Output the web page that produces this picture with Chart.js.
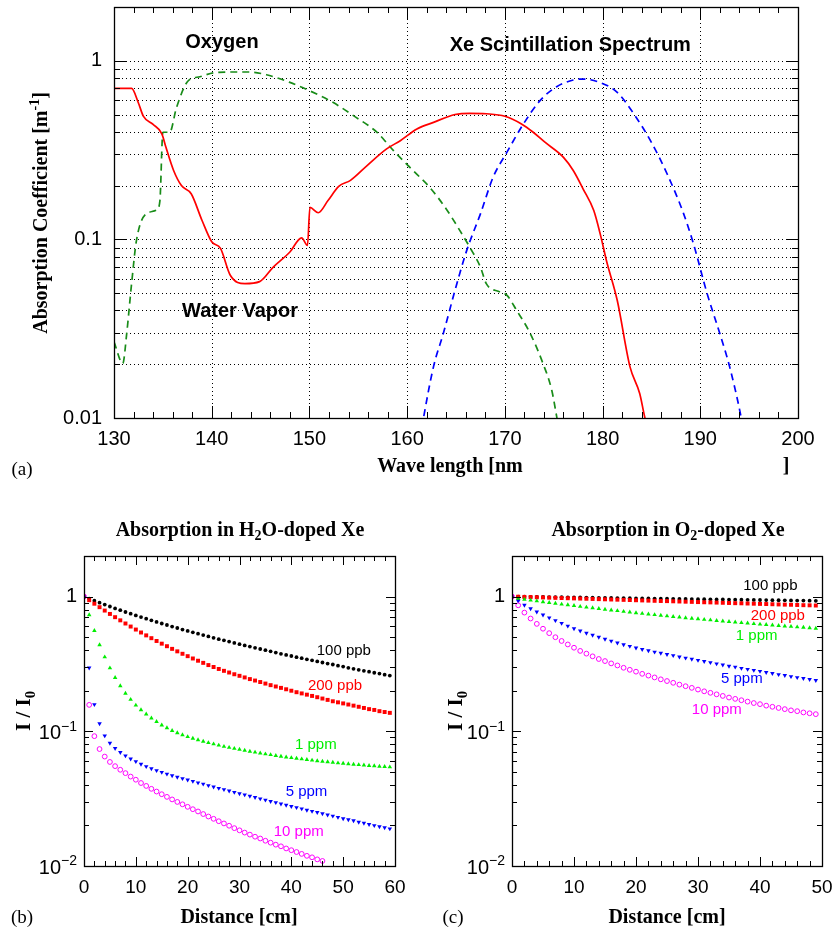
<!DOCTYPE html>
<html>
<head>
<meta charset="utf-8">
<script src="https://cdn.jsdelivr.net/npm/chart.js@4.4.0/dist/chart.umd.min.js"></script>
<style>
  body { margin: 0; background: #fff; width: 835px; height: 931px; position: relative; overflow: hidden; }
  .box { position: absolute; }
</style>
</head>
<body>
<div class="box" style="left:0;top:0;width:835px;height:490px"><canvas id="cA"></canvas></div>
<div class="box" style="left:0;top:500px;width:417px;height:431px"><canvas id="cB"></canvas></div>
<div class="box" style="left:417px;top:500px;width:418px;height:431px"><canvas id="cC"></canvas></div>
<script>
// (a) absorption coefficients vs wavelength
var wvNm  = [130, 131.8, 132.5, 133.0, 134.0, 134.9, 135.3, 136.1, 136.9, 137.9, 139.0, 140.0, 140.9, 141.9, 143.4, 144.9, 146.3, 148.0, 149.2, 149.8, 150.05, 150.9, 151.9, 153.0, 154.2, 155.9, 157.9, 159.3, 161.0, 162.7, 164.9, 166.4, 168.1, 170.0, 171.7, 172.9, 174.1, 176.0, 177.0, 178.0, 179.1, 179.8, 180.4, 181.5, 182.8, 183.8, 184.3, 184.6];
var wvAbs = [0.70, 0.70, 0.58, 0.49, 0.44, 0.39, 0.33, 0.243, 0.20, 0.18, 0.128, 0.097, 0.089, 0.063, 0.0565, 0.058, 0.070, 0.085, 0.102, 0.0925, 0.151, 0.141, 0.165, 0.198, 0.214, 0.259, 0.321, 0.357, 0.415, 0.452, 0.50, 0.508, 0.505, 0.489, 0.443, 0.398, 0.35, 0.288, 0.243, 0.192, 0.145, 0.105, 0.076, 0.0456, 0.0194, 0.0137, 0.0102, 0.0088];
var oxNm  = [130, 130.9, 131.3, 131.8, 132.3, 133.3, 134.4, 134.7, 135.0, 135.7, 136.4, 137.6, 138.8, 140.2, 142.2, 143.9, 145.6, 148.0, 150.0, 152.4, 154.5, 156.9, 158.6, 160.0, 161.3, 162.3, 164.0, 165.4, 166.4, 167.5, 168.1, 169.5, 170.2, 171.2, 172.6, 173.9, 174.8, 175.3, 175.5];
var oxAbs = [0.0267, 0.0202, 0.0297, 0.0565, 0.0987, 0.139, 0.1465, 0.165, 0.398, 0.398, 0.548, 0.773, 0.814, 0.857, 0.865, 0.865, 0.835, 0.757, 0.68, 0.585, 0.493, 0.398, 0.314, 0.262, 0.223, 0.196, 0.148, 0.112, 0.0906, 0.070, 0.0565, 0.0508, 0.0487, 0.0401, 0.0297, 0.0202, 0.0143, 0.0102, 0.0088];
var xeNm  = [161.5, 161.7, 162.7, 163.7, 164.9, 166.1, 167.5, 168.8, 170.2, 171.9, 173.6, 175.3, 177.0, 178.0, 179.7, 181.5, 183.2, 184.9, 186.6, 188.3, 189.3, 190.7, 192.0, 193.0, 194.1, 194.3];
var xeAbs = [0.0088, 0.0102, 0.0194, 0.0297, 0.0519, 0.0868, 0.139, 0.223, 0.307, 0.443, 0.598, 0.716, 0.78, 0.79, 0.757, 0.665, 0.504, 0.357, 0.233, 0.139, 0.0946, 0.0497, 0.0297, 0.0194, 0.0106, 0.0092];

// (b) H2O-doped Xe, I/I0 vs distance
var distB = [0,1,2,3,4,5,6,7,8,9,10,11,12,13,14,15,16,17,18,19,20,21,22,23,24,25,26,27,28,29,30,31,32,33,34,35,36,37,38,39,40,41,42,43,44,45,46,47,48,49,50,51,52,53,54,55,56,57,58,59];
var h2o100ppb = [1,0.965,0.932,0.901,0.872,0.844,0.817,0.792,0.768,0.746,0.724,0.704,0.685,0.666,0.648,0.631,0.615,0.599,0.584,0.569,0.556,0.543,0.530,0.518,0.506,0.494,0.483,0.473,0.463,0.453,0.443,0.434,0.425,0.416,0.408,0.400,0.392,0.384,0.376,0.369,0.362,0.355,0.349,0.342,0.336,0.330,0.324,0.318,0.313,0.307,0.302,0.296,0.291,0.286,0.281,0.277,0.272,0.268,0.263,0.259];
var h2o200ppb = [1,0.940,0.885,0.834,0.787,0.743,0.703,0.666,0.631,0.599,0.569,0.541,0.515,0.491,0.468,0.447,0.428,0.409,0.392,0.376,0.361,0.347,0.334,0.322,0.310,0.300,0.290,0.281,0.273,0.265,0.258,0.251,0.244,0.238,0.232,0.226,0.220,0.215,0.210,0.205,0.200,0.195,0.191,0.187,0.183,0.179,0.175,0.171,0.167,0.164,0.161,0.158,0.155,0.152,0.149,0.146,0.144,0.141,0.139,0.137];
var h2o1ppm = [1,0.731,0.558,0.438,0.356,0.295,0.250,0.217,0.191,0.172,0.156,0.144,0.134,0.125,0.118,0.111,0.106,0.101,0.0973,0.0940,0.0910,0.0885,0.0863,0.0841,0.0822,0.0804,0.0787,0.0771,0.0757,0.0745,0.0733,0.0721,0.0709,0.0698,0.0688,0.0678,0.0669,0.0660,0.0651,0.0643,0.0636,0.0629,0.0622,0.0615,0.0609,0.0603,0.0597,0.0592,0.0587,0.0581,0.0577,0.0572,0.0568,0.0564,0.0560,0.0556,0.0553,0.0549,0.0546,0.0543];
var h2o5ppm = [1,0.296,0.158,0.114,0.0927,0.0817,0.0746,0.0697,0.0658,0.0625,0.0597,0.0571,0.0548,0.0528,0.0512,0.0497,0.0482,0.0469,0.0457,0.0446,0.0436,0.0426,0.0415,0.0406,0.0396,0.0387,0.0378,0.0370,0.0361,0.0353,0.0345,0.0338,0.0330,0.0323,0.0316,0.0309,0.0302,0.0296,0.0289,0.0283,0.0277,0.0272,0.0266,0.0260,0.0255,0.0250,0.0245,0.0240,0.0235,0.0230,0.0225,0.0221,0.0217,0.0212,0.0208,0.0204,0.0200,0.0196,0.0193,0.0189];
var h2o10ppm = [1,0.157,0.0920,0.0738,0.0649,0.0592,0.0551,0.0518,0.0489,0.0461,0.0437,0.0413,0.0393,0.0374,0.0357,0.0341,0.0326,0.0312,0.0299,0.0287,0.0275,0.0264,0.0254,0.0243,0.0233,0.0224,0.0215,0.0207,0.0199,0.0191,0.0184,0.0177,0.0171,0.0165,0.0160,0.0154,0.0149,0.0144,0.0140,0.0135,0.0131,0.0127,0.0123,0.0119,0.0116,0.0112,0.0109];

// (c) O2-doped Xe
var distC = [0,1,2,3,4,5,6,7,8,9,10,11,12,13,14,15,16,17,18,19,20,21,22,23,24,25,26,27,28,29,30,31,32,33,34,35,36,37,38,39,40,41,42,43,44,45,46,47,48,49];
var o2100ppb = [1,0.999,0.997,0.996,0.994,0.993,0.991,0.990,0.988,0.987,0.985,0.984,0.982,0.981,0.979,0.978,0.976,0.975,0.974,0.972,0.971,0.969,0.968,0.966,0.965,0.964,0.962,0.961,0.959,0.958,0.957,0.955,0.954,0.952,0.951,0.950,0.948,0.947,0.945,0.944,0.943,0.941,0.940,0.939,0.937,0.936,0.934,0.933,0.932,0.930];
var o2200ppb = [1,0.997,0.994,0.991,0.988,0.985,0.981,0.978,0.975,0.972,0.969,0.966,0.963,0.960,0.957,0.954,0.951,0.948,0.945,0.942,0.939,0.936,0.933,0.930,0.927,0.925,0.922,0.919,0.916,0.913,0.910,0.907,0.905,0.902,0.899,0.896,0.893,0.891,0.888,0.885,0.882,0.880,0.877,0.874,0.871,0.869,0.866,0.863,0.861,0.858];
var o21ppm = [1,0.966,0.952,0.939,0.926,0.913,0.901,0.889,0.877,0.866,0.855,0.844,0.833,0.823,0.813,0.803,0.793,0.784,0.774,0.766,0.757,0.748,0.740,0.732,0.725,0.717,0.710,0.703,0.695,0.689,0.682,0.675,0.669,0.663,0.657,0.651,0.645,0.639,0.634,0.628,0.623,0.618,0.613,0.608,0.603,0.599,0.594,0.590,0.585,0.581];
var o25ppm = [1,0.927,0.865,0.813,0.769,0.731,0.697,0.664,0.634,0.605,0.579,0.556,0.536,0.518,0.500,0.483,0.468,0.453,0.440,0.428,0.416,0.406,0.397,0.388,0.380,0.372,0.365,0.357,0.350,0.343,0.337,0.330,0.324,0.317,0.311,0.305,0.300,0.294,0.289,0.284,0.279,0.274,0.269,0.264,0.260,0.255,0.251,0.247,0.243,0.239];
var o210ppm = [1,0.861,0.760,0.687,0.627,0.577,0.535,0.499,0.468,0.441,0.417,0.395,0.377,0.360,0.344,0.332,0.319,0.308,0.296,0.286,0.277,0.267,0.259,0.251,0.243,0.236,0.229,0.222,0.216,0.210,0.204,0.198,0.193,0.188,0.183,0.178,0.174,0.170,0.166,0.162,0.159,0.155,0.152,0.149,0.146,0.143,0.141,0.138,0.136,0.134];

var SANS = '"Liberation Sans", Arial, Helvetica, sans-serif';
var SERIF = '"Liberation Serif", "Times New Roman", serif';
var GREEN = '#00ee00';

Chart.defaults.font.family = SANS;
Chart.defaults.color = '#000';

function pts(xs, ys) {
  return ys.map(function(y, i) { return {x: xs[i], y: y}; });
}

function isDecade(v) {
  var l = Math.log10(v);
  return Math.abs(l - Math.round(l)) < 1e-6;
}

// 1..9 x 10^n tick values between min and max
function logTicks(min, max) {
  var out = [];
  for (var e = Math.floor(Math.log10(min)); e <= Math.ceil(Math.log10(max)); e++) {
    for (var m = 1; m < 10; m++) {
      var v = m * Math.pow(10, e);
      if (v >= min * 0.999 && v <= max * 1.001) out.push({v: v, major: m == 1});
    }
  }
  return out;
}

// text with sub/superscript parts; align 'center' or 'right'
function drawRich(ctx, parts, x, y, size, family, weight, align) {
  var w = 0;
  parts.forEach(function(p) {
    ctx.font = weight + ' ' + (p.s ? size * 0.7 : size) + 'px ' + family;
    p.w = ctx.measureText(p.t).width;
    w += p.w;
  });
  var cx = align == 'right' ? x - w : x - w / 2;
  ctx.textAlign = 'left';
  ctx.textBaseline = 'middle';
  parts.forEach(function(p) {
    ctx.font = weight + ' ' + (p.s ? size * 0.7 : size) + 'px ' + family;
    var dy = p.s == 'sub' ? size * 0.28 : (p.s == 'sup' ? -size * 0.33 : 0);
    ctx.fillText(p.t, cx, y + dy);
    cx += p.w;
  });
}

function makeFrame(cfg) {
  return {
    id: 'frame',
    beforeDatasetsDraw: function(chart) {
      if (!cfg.grid) return;
      var ctx = chart.ctx, a = chart.chartArea, xs = chart.scales.x, ys = chart.scales.y;
      ctx.save();
      ctx.strokeStyle = '#000';
      ctx.lineWidth = 1;
      ctx.setLineDash([1, 3]);
      ctx.beginPath();
      logTicks(ys.min, ys.max).forEach(function(t) {
        if (t.v <= ys.min * 1.001 || t.v >= ys.max * 0.999) return;
        var y = Math.round(ys.getPixelForValue(t.v)) + 0.5;
        ctx.moveTo(a.left, y); ctx.lineTo(a.right, y);
      });
      for (var k = 1; xs.min + k * cfg.xMajor < xs.max - 1e-9; k++) {
        var x = Math.round(xs.getPixelForValue(xs.min + k * cfg.xMajor)) + 0.5;
        ctx.moveTo(x, a.top); ctx.lineTo(x, a.bottom);
      }
      ctx.stroke();
      ctx.restore();
    },
    afterDraw: function(chart) {
      var ctx = chart.ctx, a = chart.chartArea, xs = chart.scales.x, ys = chart.scales.y;
      ctx.save();
      ctx.strokeStyle = '#000';
      ctx.lineWidth = 1;
      ctx.setLineDash([]);
      ctx.beginPath();
      logTicks(ys.min, ys.max).forEach(function(t) {
        var y = Math.round(ys.getPixelForValue(t.v)) + 0.5;
        var len = t.major ? cfg.majLen : cfg.minLen;
        ctx.moveTo(a.left, y); ctx.lineTo(a.left + len, y);
        ctx.moveTo(a.right, y); ctx.lineTo(a.right - len, y);
      });
      for (var k = 0; xs.min + k * cfg.xStep <= xs.max + 1e-9; k++) {
        var v = xs.min + k * cfg.xStep;
        var x = Math.round(xs.getPixelForValue(v)) + 0.5;
        var major = Math.abs(Math.round((v - xs.min) / cfg.xMajor) * cfg.xMajor - (v - xs.min)) < 1e-9;
        var len = major ? cfg.majLen : cfg.minLen;
        ctx.moveTo(x, a.bottom); ctx.lineTo(x, a.bottom - len);
        ctx.moveTo(x, a.top); ctx.lineTo(x, a.top + len);
      }
      ctx.stroke();
      ctx.lineWidth = 1.3;
      ctx.strokeRect(Math.round(a.left) + 0.5, Math.round(a.top) + 0.5, Math.round(a.right - a.left), Math.round(a.bottom - a.top));

      // power-of-ten labels with a real superscript
      ctx.fillStyle = '#000';
      if (cfg.powLabels) {
        logTicks(ys.min, ys.max).forEach(function(t) {
          if (!t.major) return;
          var e = Math.round(Math.log10(t.v));
          var parts = e == 0 ? [{t: '1'}] : [{t: '10'}, {t: '\u2212' + (-e), s: 'sup'}];
          drawRich(ctx, parts, a.left - 7, ys.getPixelForValue(t.v) + (e == 0 ? 0 : 2), 20, SANS, 'normal', 'right');
        });
      }

      // in-plot labels, anchored at data coordinates
      cfg.notes.forEach(function(n) {
        ctx.fillStyle = n.color;
        ctx.font = n.font;
        ctx.textAlign = n.align;
        ctx.textBaseline = 'middle';
        ctx.fillText(n.t, xs.getPixelForValue(n.x), ys.getPixelForValue(n.y));
      });

      // titles
      ctx.fillStyle = '#000';
      cfg.titles.forEach(function(t) {
        ctx.save();
        ctx.translate(t.x, t.y);
        if (t.rot) ctx.rotate(-Math.PI / 2);
        drawRich(ctx, t.parts, 0, 0, t.size, t.family, t.weight, 'center');
        ctx.restore();
      });
      ctx.restore();
    }
  };
}

function fitX(h) {
  return function(s) { s.height = h; s.paddingLeft = 0; s.paddingRight = 0; };
}
function fitY(w) {
  return function(s) { s.width = w; s.paddingTop = 0; s.paddingBottom = 0; };
}

function baseOptions(pad, xCfg, yCfg) {
  return {
    responsive: true,
    maintainAspectRatio: false,
    animation: false,
    devicePixelRatio: 1,
    layout: {padding: pad},
    plugins: {legend: {display: false}, tooltip: {enabled: false}},
    scales: {x: xCfg, y: yCfg}
  };
}

// ---------- (a) ----------
new Chart(document.getElementById('cA'), {
  type: 'line',
  data: {
    datasets: [
      {data: pts(wvNm, wvAbs), borderColor: '#ff0000', borderWidth: 1.7, pointRadius: 0, cubicInterpolationMode: 'monotone'},
      {data: pts(oxNm, oxAbs), borderColor: '#198c19', borderWidth: 1.7, borderDash: [7, 5], pointRadius: 0, cubicInterpolationMode: 'monotone'},
      {data: pts(xeNm, xeAbs), borderColor: '#0000ff', borderWidth: 1.7, borderDash: [7, 5], pointRadius: 0, cubicInterpolationMode: 'monotone'}
    ]
  },
  options: baseOptions({left: 0, right: 37, top: 7, bottom: 0},
    {type: 'linear', min: 130, max: 200,
     grid: {display: false, drawTicks: false}, border: {display: false},
     ticks: {stepSize: 10, padding: 9, font: {size: 20}, color: '#000'},
     afterFit: fitX(72)},
    {type: 'logarithmic', min: 0.01, max: 2,
     grid: {display: false, drawTicks: false}, border: {display: false},
     ticks: {autoSkip: false, padding: 12, font: {size: 20}, color: '#000',
             callback: function(v) { return isDecade(v) ? String(+v.toPrecision(1)) : ''; }},
     afterFit: fitY(114)}),
  plugins: [makeFrame({
    grid: true, xStep: 2, xMajor: 10, majLen: 12, minLen: 6,
    notes: [
      {t: 'Oxygen', x: 141.05, y: 1.26, color: '#000', font: 'bold 20px ' + SANS, align: 'center'},
      {t: 'Xe Scintillation Spectrum', x: 176.7, y: 1.21, color: '#000', font: 'bold 20px ' + SANS, align: 'center'},
      {t: 'Water Vapor', x: 142.9, y: 0.0396, color: '#000', font: 'bold 20px ' + SANS, align: 'center'}
    ],
    titles: [
      {parts: [{t: 'Absorption Coefficient [m'}, {t: '-1', s: 'sup'}, {t: ']'}], x: 42, y: 213, rot: true, size: 20, family: SERIF, weight: 'bold'},
      {parts: [{t: 'Wave length [nm'}], x: 450, y: 467, size: 20, family: SERIF, weight: 'bold'},
      {parts: [{t: ']'}], x: 786, y: 467, size: 20, family: SERIF, weight: 'bold'},
      {parts: [{t: '(a)'}], x: 22, y: 470, size: 19, family: SERIF, weight: 'normal'}
    ]
  })]
});

// ---------- (b), (c) ----------
function markerSets(dist, blk, red, grn, blu, mag) {
  return [
    {data: pts(dist, mag), pointStyle: 'circle', pointRadius: 2.4, pointBackgroundColor: 'rgba(0,0,0,0)', pointBorderColor: '#ff00ff', pointBorderWidth: 1},
    {data: pts(dist, blu), pointStyle: 'triangle', pointRotation: 180, pointRadius: 2.6, pointBackgroundColor: '#0000ff', pointBorderWidth: 0},
    {data: pts(dist, grn), pointStyle: 'triangle', pointRadius: 2.6, pointBackgroundColor: GREEN, pointBorderWidth: 0},
    {data: pts(dist, red), pointStyle: 'rect', pointRadius: 2.8, pointBackgroundColor: '#ff0000', pointBorderWidth: 0},
    {data: pts(dist, blk), pointStyle: 'circle', pointRadius: 1.9, pointBackgroundColor: '#000000', pointBorderWidth: 0}
  ];
}

function lowerChart(id, dist, sets, xMax, padRight, yWidth, notes, title) {
  new Chart(document.getElementById(id), {
    type: 'scatter',
    data: {datasets: markerSets.apply(null, [dist].concat(sets))},
    options: baseOptions({left: 0, right: padRight, top: 56, bottom: 0},
      {type: 'linear', min: 0, max: xMax,
       grid: {display: false, drawTicks: false}, border: {display: false},
       ticks: {stepSize: 10, padding: 10, font: {size: 19}, color: '#000'},
       afterFit: fitX(65)},
      {type: 'logarithmic', min: 0.01, max: 2,
       grid: {display: false, drawTicks: false}, border: {display: false},
       ticks: {autoSkip: false, padding: 8, font: {size: 19}, callback: function() { return ''; }},
       afterFit: fitY(yWidth)}),
    plugins: [makeFrame({grid: false, powLabels: true, xStep: 2, xMajor: 10, majLen: 9, minLen: 5, notes: notes, titles: title})]
  });
}

var noteFont = '15px ' + SANS;

lowerChart('cB', distB, [h2o100ppb, h2o200ppb, h2o1ppm, h2o5ppm, h2o10ppm], 60, 22, 84, [
  {t: '100 ppb', x: 44.9, y: 0.395, color: '#000', font: noteFont, align: 'left'},
  {t: '200 ppb', x: 43.2, y: 0.217, color: '#ff0000', font: noteFont, align: 'left'},
  {t: '1 ppm', x: 40.7, y: 0.0789, color: GREEN, font: noteFont, align: 'left'},
  {t: '5 ppm', x: 38.9, y: 0.0358, color: '#0000ff', font: noteFont, align: 'left'},
  {t: '10 ppm', x: 36.6, y: 0.0178, color: '#ff00ff', font: noteFont, align: 'left'}
], [
  {parts: [{t: 'Absorption in H'}, {t: '2', s: 'sub'}, {t: 'O-doped Xe'}], x: 240, y: 31, size: 20, family: SERIF, weight: 'bold'},
  {parts: [{t: 'I / I'}, {t: '0', s: 'sub'}], x: 25, y: 211, rot: true, size: 21, family: SERIF, weight: 'bold'},
  {parts: [{t: 'Distance [cm]'}], x: 239, y: 418, size: 20, family: SERIF, weight: 'bold'},
  {parts: [{t: '(b)'}], x: 22, y: 418, size: 19, family: SERIF, weight: 'normal'}
]);

lowerChart('cC', distC, [o2100ppb, o2200ppb, o21ppm, o25ppm, o210ppm], 50, 13, 95, [
  {t: '100 ppb', x: 37.3, y: 1.20, color: '#000', font: noteFont, align: 'left'},
  {t: '200 ppb', x: 38.5, y: 0.718, color: '#ff0000', font: noteFont, align: 'left'},
  {t: '1 ppm', x: 36.1, y: 0.509, color: GREEN, font: noteFont, align: 'left'},
  {t: '5 ppm', x: 33.7, y: 0.244, color: '#0000ff', font: noteFont, align: 'left'},
  {t: '10 ppm', x: 29.0, y: 0.144, color: '#ff00ff', font: noteFont, align: 'left'}
], [
  {parts: [{t: 'Absorption in O'}, {t: '2', s: 'sub'}, {t: '-doped Xe'}], x: 251, y: 31, size: 20, family: SERIF, weight: 'bold'},
  {parts: [{t: 'I / I'}, {t: '0', s: 'sub'}], x: 40, y: 211, rot: true, size: 21, family: SERIF, weight: 'bold'},
  {parts: [{t: 'Distance [cm]'}], x: 250, y: 418, size: 20, family: SERIF, weight: 'bold'},
  {parts: [{t: '(c)'}], x: 36, y: 418, size: 19, family: SERIF, weight: 'normal'}
]);
</script>
</body>
</html>
